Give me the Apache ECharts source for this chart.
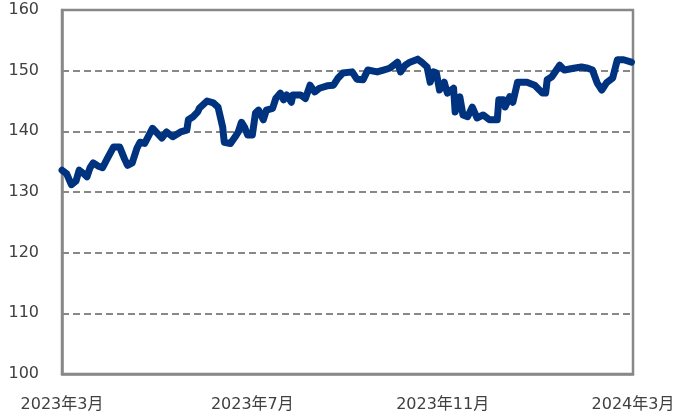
<!DOCTYPE html>
<html>
<head>
<meta charset="utf-8">
<script src="https://cdn.jsdelivr.net/npm/echarts@6/dist/echarts.min.js"></script>
<style>html,body{margin:0;padding:0;background:#fff;}#c{width:678px;height:417px;}</style>
</head>
<body>
<div id="c"></div>
<script>
// days since 2023-03-01
var dayOffsets = [0,3,6,9,11,14,16,18,20,23,26,29,33,37,40,42,45,48,50,53,56,58,61,64,67,71,76,80,81,84,87,88,93,97,100,103,104,108,111,113,115,117,119,122,124,126,129,131,135,137,140,142,144,147,148,153,156,159,162,165,170,174,177,180,186,189,193,196,202,206,210,215,217,220,223,228,231,234,236,238,240,242,245,247,251,252,255,257,260,263,266,270,274,279,280,283,284,287,289,292,298,303,308,310,311,314,319,322,328,333,337,340,343,346,349,353,356,360,365];
var rates = [133.6,133.0,131.2,131.8,133.6,133.0,132.5,134.0,134.8,134.3,134.0,135.5,137.4,137.4,135.5,134.4,134.8,137.2,138.2,138.0,139.5,140.5,139.7,138.9,139.9,139.1,139.9,140.2,141.9,142.4,143.2,143.8,145.0,144.7,144.0,140.7,138.2,138.0,139.1,139.9,141.5,140.7,139.4,139.4,143.0,143.5,141.9,143.5,143.8,145.4,146.3,145.2,146.0,144.8,146.0,146.0,145.4,147.6,146.5,147.1,147.5,147.6,148.8,149.6,149.8,148.6,148.5,150.1,149.8,150.1,150.4,151.4,149.8,150.9,151.4,151.9,151.3,150.6,148.1,149.8,149.6,146.8,148.1,146.3,147.1,143.2,145.7,142.7,142.4,144.0,142.2,142.7,141.9,141.9,145.2,145.2,144.0,145.7,144.8,148.1,148.1,147.6,146.3,146.3,148.5,149.0,150.9,150.1,150.4,150.6,150.4,150.1,148.0,146.8,148.0,148.8,151.8,151.8,151.4];
var xTickDays = [0,122,244,366];
var xTickLabels = ['2023年3月','2023年7月','2023年11月','2024年3月'];
var yTicks = [100,110,120,130,140,150,160];

var data = dayOffsets.map(function(d,i){return [d, rates[i]];});
var chart = echarts.init(document.getElementById('c'));
var font = 'DejaVu Sans, Noto Sans CJK JP, sans-serif';
chart.setOption({
  animation:false,
  grid:{left:62,right:45,top:10,bottom:43,show:true,borderColor:'#888',borderWidth:2.5,backgroundColor:'transparent'},
  xAxis:{type:'value',min:xTickDays[0],max:xTickDays[xTickDays.length-1],interval:122,
    axisLine:{show:true,lineStyle:{color:'#888',width:2.5}},
    axisTick:{show:false},splitLine:{show:false},
    axisLabel:{margin:23,fontSize:16,color:'#404040',fontFamily:font,
      formatter:function(v){var i=xTickDays.indexOf(v);return i>=0?xTickLabels[i]:'';}}},
  yAxis:{type:'value',min:yTicks[0],max:yTicks[yTicks.length-1],interval:10,
    axisLine:{show:true,lineStyle:{color:'#888',width:2.5}},
    axisTick:{show:false},
    splitLine:{show:true,lineStyle:{color:'#888',width:2,type:[7,4]}},
    axisLabel:{margin:23,fontSize:16,color:'#404040',fontFamily:font}},
  series:[{type:'line',data:data,showSymbol:false,symbol:'none',
    lineStyle:{color:'#00337f',width:7,join:'round',cap:'round'},z:5}]
});
</script>
</body>
</html>
